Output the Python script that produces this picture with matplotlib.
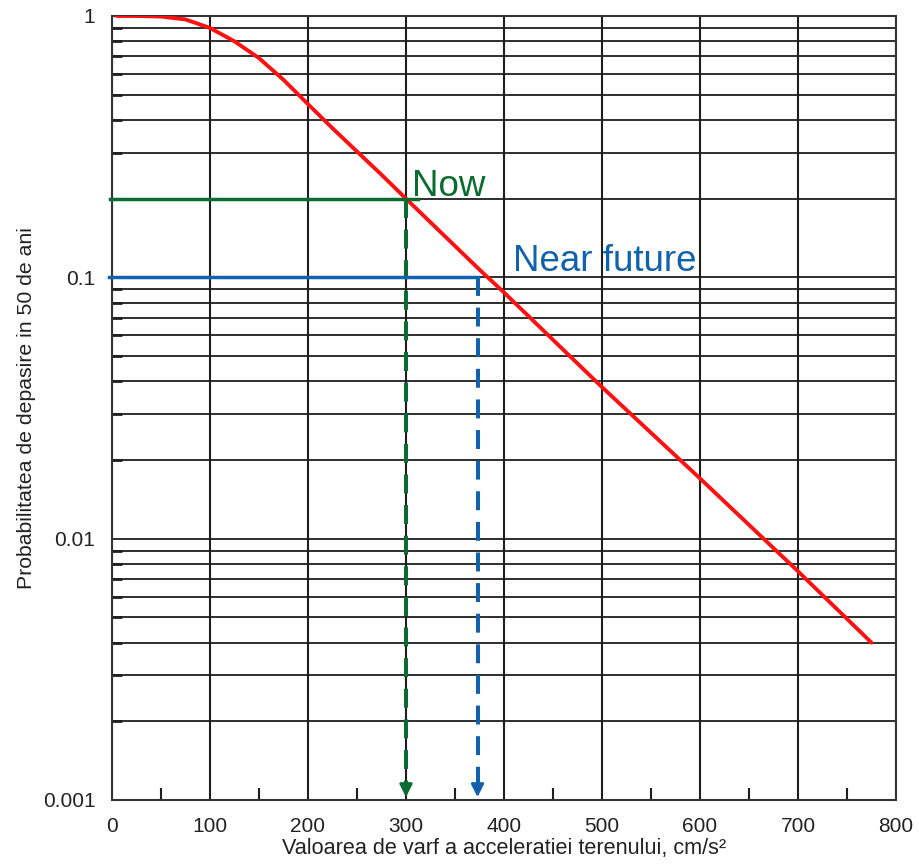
import matplotlib.pyplot as plt
from matplotlib.ticker import LogLocator, FixedLocator, NullFormatter

# hazard curve: peak ground acceleration (cm/s2) vs probability of exceedance in 50 years
pga = [5, 25, 50, 75, 100, 125, 150, 175, 200, 225, 250, 275, 300, 375, 400, 500, 600, 700, 775]
prob = [1.0, 1.0, 0.995, 0.97, 0.9, 0.8, 0.69, 0.57, 0.46, 0.372, 0.303, 0.247, 0.2,
        0.107, 0.0875, 0.038, 0.017, 0.0075, 0.004]

now_pga, now_prob = 300, 0.2
near_pga, near_prob = 373, 0.1

xticks = [0, 100, 200, 300, 400, 500, 600, 700, 800]
yticks = [0.001, 0.01, 0.1, 1]
ytick_labels = ["0.001", "0.01", "0.1", "1"]

green = "#0b6b30"
blue = "#1162ad"
gridc = "#1e1e1e"

plt.rcParams['font.family'] = ['Liberation Sans', 'DejaVu Sans']

fig = plt.figure(figsize=(9.2, 8.64), dpi=100)
ax = fig.add_axes([0.1217, 0.0741, 0.8522, 0.9074])
ax.set_yscale('log')
ax.set_xlim(0, 800)
ax.set_ylim(0.001, 1)

# grid: every 100 on x, every log minor step on y
ax.yaxis.set_major_locator(FixedLocator(yticks))
ax.set_yticklabels(ytick_labels)
ax.yaxis.set_minor_locator(LogLocator(base=10, subs=range(2, 10)))
ax.yaxis.set_minor_formatter(NullFormatter())
ax.xaxis.set_major_locator(FixedLocator(xticks))
ax.xaxis.set_minor_locator(FixedLocator([50, 150, 250, 350, 450, 550, 650, 750]))
ax.grid(which='both', axis='y', color=gridc, lw=1.3)
ax.grid(which='major', axis='x', color=gridc, lw=1.5)
ax.tick_params(axis='both', which='major', length=0, labelsize=15, colors='#222222')
ax.tick_params(axis='x', which='major', pad=12)
ax.tick_params(axis='y', which='major', pad=12)
ax.tick_params(axis='x', which='minor', direction='in', length=9, width=1.5, color=gridc)
ax.tick_params(axis='y', which='minor', direction='in', length=7, width=2, color=gridc)
for s in ax.spines.values():
    s.set_color('#333333')
    s.set_linewidth(1.5)

ax.plot(pga, prob, color='#ff1111', lw=2.8, zorder=4, solid_capstyle='round',
        solid_joinstyle='round')

# "Now" marker lines
ax.plot([-2, now_pga + 12], [now_prob, now_prob], color=green, lw=2.5, clip_on=False, zorder=5)
ax.plot([now_pga, now_pga], [now_prob, 0.00113], color=green, lw=2.9, dashes=(4.7, 2.9), zorder=5)
ax.annotate('', xy=(now_pga, 0.001), xytext=(now_pga, 0.00118),
            arrowprops=dict(arrowstyle='-|>', color=green, lw=2, mutation_scale=19), zorder=6)
ax.text(now_pga + 6, now_prob * 1.027, "Now", color=green, fontsize=26.5, ha='left', va='baseline')

# "Near future" marker lines
ax.plot([-3, near_pga], [near_prob, near_prob], color=blue, lw=2.5, clip_on=False, zorder=5)
ax.plot([near_pga, near_pga], [near_prob, 0.00113], color=blue, lw=2.9, dashes=(4.7, 2.9), zorder=5)
ax.annotate('', xy=(near_pga, 0.001), xytext=(near_pga, 0.00118),
            arrowprops=dict(arrowstyle='-|>', color=blue, lw=2, mutation_scale=19), zorder=6)
ax.text(near_pga + 36, near_prob * 1.054, "Near future", color=blue, fontsize=26.5, ha='left', va='baseline')

ax.set_xlabel("Valoarea de varf a acceleratiei terenului, cm/s²", fontsize=15.6, color='#222222', labelpad=2)
ax.set_ylabel("Probabilitatea de depasire in 50 de ani", fontsize=15.3, color='#222222', labelpad=5)

fig.savefig("out.png", dpi=100, facecolor='white')
